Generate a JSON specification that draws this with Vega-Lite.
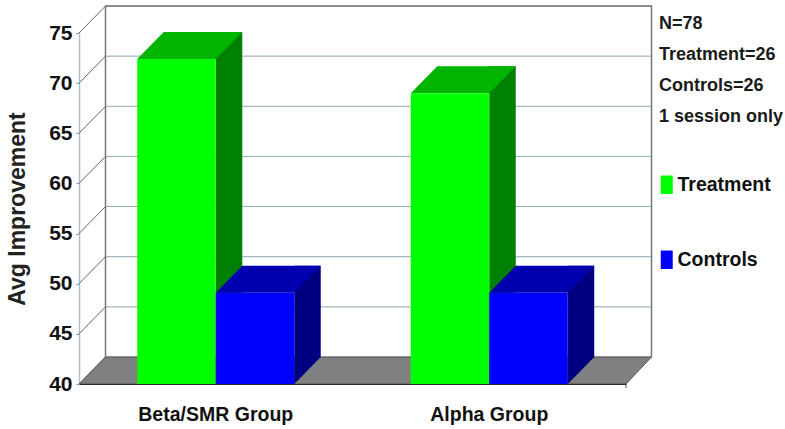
{"$schema":"https://vega.github.io/schema/vega-lite/v6.json","width":547,"height":351,"autosize":{"type":"none"},"padding":{"left":79,"top":33,"right":159,"bottom":45},"background":"white","title":{"text":["N=78","Treatment=26","Controls=26","1 session only"],"anchor":"start","frame":"group","dx":580,"dy":123,"offset":0,"baseline":"top","font":"Liberation Sans","fontSize":18,"fontWeight":"bold","lineHeight":31,"color":"#1a1a1a"},"config":{"view":{"stroke":null}},"datasets":{"bars":[{"group":"Beta/SMR Group","series":"Treatment","value":72.4},{"group":"Beta/SMR Group","series":"Controls","value":49.1},{"group":"Alpha Group","series":"Treatment","value":69},{"group":"Alpha Group","series":"Controls","value":49.1}],"ticks":[{"tick":40},{"tick":45},{"tick":50},{"tick":55},{"tick":60},{"tick":65},{"tick":70},{"tick":75}]},"layer":[{"data":{"name":"ticks"},"mark":{"type":"point","filled":false,"size":4,"strokeWidth":1,"opacity":1,"stroke":"#8ea9b5","shape":"M-247,-27L299,-27"},"encoding":{"y":{"field":"tick","type":"quantitative","scale":{"domain":[40,75]},"axis":{"values":[40,45,50,55,60,65,70,75],"title":"Avg Improvement","titleFont":"Liberation Sans","titleFontSize":23,"titleFontWeight":"bold","titleColor":"#222222","titlePadding":19,"labelFont":"Liberation Sans","labelFontSize":21,"labelFontWeight":"bold","labelColor":"#111111","labelPadding":4,"domainColor":"#a9c0d0","domainWidth":1.5,"tickColor":"#888888","tickSize":3,"grid":false}}}},{"data":{"name":"ticks"},"mark":{"type":"point","filled":false,"size":4,"strokeWidth":1,"opacity":1,"stroke":"#666666","shape":"M-273.5,0L-247,-27"},"encoding":{"y":{"field":"tick","type":"quantitative"}}},{"data":{"values":[{"base":40}]},"mark":{"type":"point","filled":true,"size":4,"opacity":1,"fill":"#808080","stroke":"#555555","strokeWidth":1,"shape":"M-273.5,0L-247,-27L299,-27L273.5,0Z"},"encoding":{"y":{"field":"base","type":"quantitative"}}},{"data":{"values":[{"base":40}]},"mark":{"type":"point","filled":false,"size":4,"opacity":1,"stroke":"#777777","strokeWidth":1.5,"shape":"M-247,-27L-247,-378L299,-378L299,-27"},"encoding":{"y":{"field":"base","type":"quantitative"}}},{"data":{"values":[{"base":40}]},"mark":{"type":"point","filled":false,"size":4,"opacity":1,"stroke":"#555555","strokeWidth":1,"shape":"M273.5,0L273.5,4"},"encoding":{"y":{"field":"base","type":"quantitative"}}},{"data":{"name":"bars"},"transform":[{"filter":"datum.series=='Treatment'"}],"mark":{"type":"bar","width":26.5,"xOffset":13.25,"yOffset":-27,"y2Offset":-27,"fill":"#008000"},"encoding":{"x":{"field":"group","type":"nominal","sort":null},"y":{"field":"value","type":"quantitative"},"y2":{"datum":40}}},{"data":{"name":"bars"},"transform":[{"filter":"datum.series=='Controls'"}],"mark":{"type":"bar","width":26.5,"xOffset":91.75,"yOffset":-27,"y2Offset":-27,"fill":"#000080"},"encoding":{"x":{"field":"group","type":"nominal","sort":null},"y":{"field":"value","type":"quantitative"},"y2":{"datum":40}}},{"data":{"name":"bars"},"mark":{"type":"point","filled":true,"size":4,"opacity":1,"shape":"M39.25,0L39.25,-27L65.75,-27Z"},"encoding":{"x":{"field":"group","type":"nominal","sort":null},"xOffset":{"field":"series","type":"nominal","sort":null},"y":{"datum":40},"fill":{"condition":{"test":"datum.series=='Treatment'","value":"#008000"},"value":"#000080"}}},{"data":{"name":"bars"},"mark":{"type":"point","filled":true,"size":4,"opacity":1,"shape":"M-39.25,0L39.25,0L65.75,-27L-12.75,-27Z"},"encoding":{"x":{"field":"group","type":"nominal","sort":null},"xOffset":{"field":"series","type":"nominal","sort":null},"y":{"field":"value","type":"quantitative"},"fill":{"condition":{"test":"datum.series=='Treatment'","value":"#00b400"},"value":"#0000b0"}}},{"data":{"name":"bars"},"mark":{"type":"bar"},"encoding":{"x":{"field":"group","type":"nominal","sort":null,"scale":{"paddingInner":0,"paddingOuter":0},"axis":{"title":null,"labelAngle":0,"labelAlign":"center","labelFont":"Liberation Sans","labelFontSize":19.5,"labelFontWeight":"bold","labelColor":"#111111","labelPadding":30,"domainColor":"#000000","domainWidth":1.2,"ticks":false}},"xOffset":{"field":"series","type":"nominal","sort":null,"scale":{"domain":["Treatment","Controls"],"paddingInner":0,"paddingOuter":0.742}},"y":{"field":"value","type":"quantitative"},"y2":{"datum":40},"color":{"field":"series","type":"nominal","scale":{"domain":["Treatment","Controls"],"range":["#00ff00","#0000ff"]},"legend":{"title":null,"orient":"none","legendX":578,"legendY":142,"symbolType":"M-0.65,-1L0.65,-1L0.65,1L-0.65,1Z","symbolSize":340,"symbolStrokeWidth":0,"symbolOpacity":1,"labelFont":"Liberation Sans","labelFontSize":19.5,"labelFontWeight":"bold","labelColor":"#111111","rowPadding":54,"labelOffset":1}}}}]}
